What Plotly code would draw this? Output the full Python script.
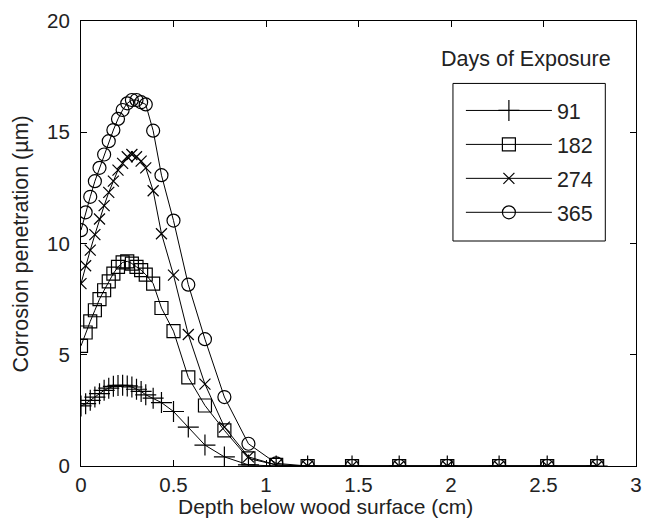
import plotly.graph_objects as go

# Depth grid (cm): fine near the surface, coarser deeper into the wood
depth = [0.0, 0.025, 0.05, 0.075, 0.1, 0.125, 0.15, 0.175, 0.2, 0.225, 0.25,
         0.275, 0.3, 0.325, 0.35, 0.39, 0.435, 0.5, 0.58, 0.67, 0.775, 0.905,
         1.055, 1.225, 1.465, 1.72, 1.98, 2.26, 2.52, 2.79]

# Corrosion penetration (um) for each exposure time
pen_91 = [2.7, 2.8, 2.95, 3.1, 3.25, 3.4, 3.5, 3.58, 3.62, 3.63, 3.6,
          3.55, 3.45, 3.35, 3.2, 3.05, 2.85, 2.45, 1.75, 0.94, 0.41, 0.05,
          0.0, 0.0, 0.0, 0.0, 0.0, 0.0, 0.0, 0.0]
pen_182 = [5.4, 6.0, 6.5, 7.0, 7.5, 7.9, 8.3, 8.65, 8.95, 9.15, 9.2,
           9.1, 8.95, 8.8, 8.6, 8.2, 7.1, 6.06, 3.98, 2.72, 1.6, 0.34,
           0.05, 0.0, 0.0, 0.0, 0.0, 0.0, 0.0, 0.0]
pen_274 = [8.2, 9.0, 9.7, 10.4, 11.1, 11.7, 12.3, 12.8, 13.3, 13.6, 13.9,
           14.0, 13.9, 13.7, 13.4, 12.37, 10.44, 8.58, 5.91, 3.68, 1.75, 0.41,
           0.05, 0.0, 0.0, 0.0, 0.0, 0.0, 0.0, 0.0]
pen_365 = [10.6, 11.4, 12.1, 12.8, 13.4, 14.0, 14.6, 15.1, 15.6, 16.0, 16.3,
           16.45, 16.45, 16.35, 16.25, 15.07, 13.07, 11.03, 8.15, 5.7, 3.1, 1.0,
           0.12, 0.0, 0.0, 0.0, 0.0, 0.0, 0.0, 0.0]

series_names = ["91", "182", "274", "365"]
series_values = [pen_91, pen_182, pen_274, pen_365]
series_symbols = ["cross-thin-open", "square-open", "x-thin-open", "circle-open"]
series_sizes = [15, 13, 11, 13]

x_ticks = [0, 0.5, 1, 1.5, 2, 2.5, 3]
x_tick_text = ["0", "0.5", "1", "1.5", "2", "2.5", "3"]
y_ticks = [0, 5, 10, 15, 20]

FONT = "Liberation Sans, Arial, sans-serif"
FS = 21.5
FS_TICK = 20.5
TXT = "#222"

fig = go.Figure()
for name, vals, sym, sz in zip(series_names, series_values,
                               series_symbols, series_sizes):
    fig.add_trace(go.Scatter(
        x=depth, y=vals, name=name, mode="lines+markers",
        line=dict(color="black", width=1),
        marker=dict(symbol=sym, size=sz, color="black",
                    line=dict(color="black", width=1.2)),
        legendgroup=name,
    ))

axis_common = dict(
    showline=True, linecolor="black", linewidth=1, mirror="ticks",
    ticks="inside", ticklen=6, tickcolor="black", tickwidth=1,
    showgrid=False, zeroline=False,
    tickfont=dict(family=FONT, size=FS_TICK, color=TXT),
)

fig.update_xaxes(range=[0, 3], tickvals=x_ticks, ticktext=x_tick_text,
                 ticklabelstandoff=0, **axis_common)
fig.update_yaxes(range=[0, 20], tickvals=y_ticks, ticklabelstandoff=6,
                 **axis_common)

fig.update_layout(
    width=651, height=520,
    margin=dict(l=81, r=9, t=17, b=54),
    paper_bgcolor="white", plot_bgcolor="white",
    font=dict(family=FONT, size=FS, color=TXT),
    showlegend=True,
    legend=dict(
        x=0.6845, y=0.845, xanchor="left", yanchor="top",
        bgcolor="rgba(0,0,0,0)", borderwidth=0,
        font=dict(family=FONT, size=FS, color=TXT),
        traceorder="grouped", tracegroupgap=3, itemwidth=86,
    ),
    shapes=[
        # frame around the legend entries
        dict(type="rect", xref="paper", yref="paper",
             x0=0.6702, x1=0.9447, y0=0.5056, y1=0.8597,
             line=dict(color="black", width=1), fillcolor="white", layer="below"),
    ],
    annotations=[
        dict(text="Depth below wood surface (cm)", xref="paper", yref="paper",
             x=0.440, y=-0.0913, xanchor="center", yanchor="middle",
             showarrow=False, font=dict(family=FONT, size=21, color=TXT)),
        dict(text="Corrosion penetration (\u00b5m)", xref="paper", yref="paper",
             x=-0.1087, y=0.499, xanchor="center", yanchor="middle",
             textangle=-90, showarrow=False,
             font=dict(family=FONT, size=FS, color=TXT)),
        dict(text="Days of Exposure", xref="paper", yref="paper",
             x=0.801, y=0.915, xanchor="center", yanchor="middle",
             showarrow=False, font=dict(family=FONT, size=FS, color=TXT)),
    ],
)

fig.write_html("out.html")
